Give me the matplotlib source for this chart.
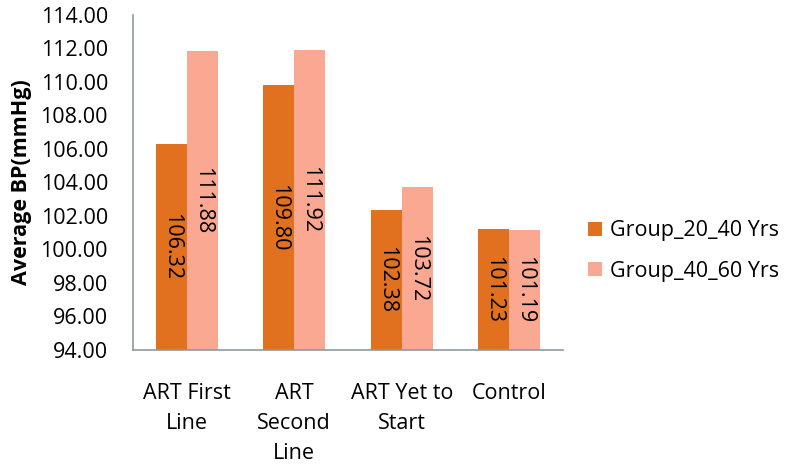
import numpy as np
import matplotlib.pyplot as plt

categories = ["ART First\nLine", "ART\nSecond\nLine", "ART Yet to\nStart", "Control"]
group_20_40 = [106.32, 109.80, 102.38, 101.23]
group_40_60 = [111.88, 111.92, 103.72, 101.19]
series_names = ["Group_20_40 Yrs", "Group_40_60 Yrs"]
yticks = np.arange(94, 115, 2)

plt.rcParams['font.family'] = ['Open Sans', 'DejaVu Sans']

fig = plt.figure(figsize=(7.86, 4.69), dpi=100)
ax = fig.add_axes([133 / 786, 1 - 350 / 469, 430 / 786, 335 / 469])

x = np.arange(len(categories))
w = 0.29
c1, c2 = "#E2711F", "#FBA892"
b1 = ax.bar(x - w / 2, np.array(group_20_40) - 94, w, bottom=94, color=c1, label=series_names[0])
b2 = ax.bar(x + w / 2, np.array(group_40_60) - 94, w, bottom=94, color=c2, label=series_names[1])

for bars, vals in ((b1, group_20_40), (b2, group_40_60)):
    for b, v in zip(bars, vals):
        ax.text(b.get_x() + b.get_width() / 2, (94 + v) / 2, "%.2f" % v,
                rotation=-90, ha='center', va='center', fontsize=15.5)

ax.set_xlim(-0.5, 3.5)
ax.set_ylim(94, 114)
ax.set_yticks(yticks)
ax.set_yticklabels(["%.2f" % t for t in yticks], fontsize=15.5)
ax.set_xticks(x)
ax.set_xticklabels(categories, fontsize=15.5, linespacing=1.55, va='top')
ax.tick_params(length=0)
ax.tick_params(axis='y', pad=18)
ax.tick_params(axis='x', pad=24)
for s in ('top', 'right'):
    ax.spines[s].set_visible(False)
for s in ('left', 'bottom'):
    ax.spines[s].set_color("#8C9BA0")
    ax.spines[s].set_linewidth(1.2)
ax.set_ylabel("Average BP(mmHg)", fontsize=15.5, fontweight='bold', labelpad=6)

ax.legend(loc='center left', bbox_to_anchor=(588 / 786, 1 - 251 / 469),
          bbox_transform=fig.transFigure, frameon=False, fontsize=15.5,
          handlelength=0.65, handleheight=0.65, handletextpad=0.35, labelspacing=0.9,
          borderpad=0, borderaxespad=0)

fig.savefig("out.png", dpi=100)
